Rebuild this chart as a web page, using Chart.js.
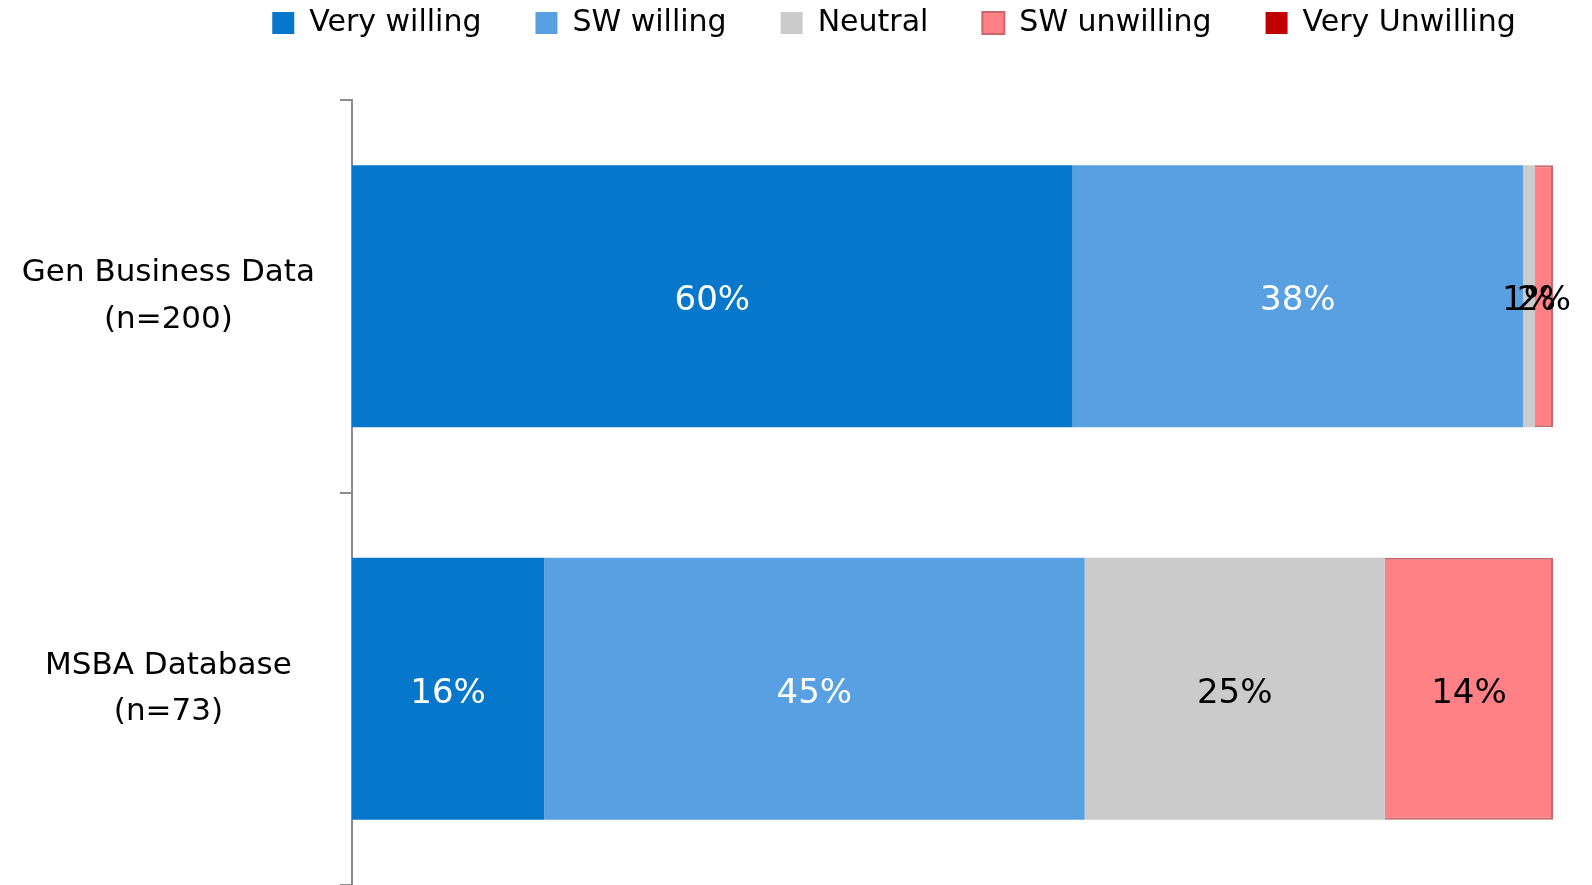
<!DOCTYPE html>
<html>
<head>
<meta charset="utf-8">
<script src="https://cdn.jsdelivr.net/npm/chart.js@4.4.1/dist/chart.umd.min.js"></script>
<style>
  html, body { margin: 0; padding: 0; background: #fff; }
  #wrap { width: 1592px; height: 885px; }
</style>
</head>
<body>
<div id="wrap"><canvas id="chart"></canvas></div>
<script>
// categories (rows) and series values, in percent
const categories = [["Gen Business Data", "(n=200)"], ["MSBA Database", "(n=73)"]];
const seriesNames = ["Very willing", "SW willing", "Neutral", "SW unwilling", "Very Unwilling"];
const veryWilling = [60, 16];
const swWilling = [37.5, 45];
const neutral = [1, 25];
const swUnwilling = [1.5, 14];
const veryUnwilling = [0, 0];

const colors = ["#0777CC", "#58A0E2", "#CBCBCB", "#FF8085", "#C00000"];
const labelColors = ["#ffffff", "#ffffff", "#000000", "#000000", "#000000"];
const FONT = "'DejaVu Sans', sans-serif";

// draw the value in the middle of each bar segment
const barLabels = {
    id: "barLabels",
    afterDatasetsDraw(chart) {
        const ctx = chart.ctx;
        ctx.save();
        ctx.font = "34px " + FONT;
        ctx.textAlign = "center";
        ctx.textBaseline = "middle";
        chart.data.datasets.forEach((ds, i) => {
            const meta = chart.getDatasetMeta(i);
            meta.data.forEach((bar, j) => {
                const v = ds.data[j];
                if (!v) return;
                ctx.fillStyle = labelColors[i];
                ctx.fillText(Math.round(v) + "%", (bar.x + bar.base) / 2, bar.y + 5);
            });
        });
        ctx.restore();
    },
};

// extra room between the legend and the bars
const legendGap = {
    id: "legendGap",
    afterInit(chart) {
        const fit = chart.legend.fit;
        chart.legend.fit = function () {
            fit.call(this);
            this.height += 52;
        };
    },
};

const allValues = [veryWilling, swWilling, neutral, swUnwilling, veryUnwilling];

new Chart(document.getElementById("chart"), {
    type: "bar",
    data: {
        labels: categories,
        datasets: seriesNames.map((name, i) => ({
            label: name,
            data: allValues[i],
            backgroundColor: colors[i],
            borderColor: i === 3 ? "#C9686C" : colors[i],
            borderWidth: i === 3 ? 2 : 0,
            barPercentage: 0.667,
            categoryPercentage: 1,
        })),
    },
    options: {
        indexAxis: "y",
        responsive: true,
        maintainAspectRatio: false,
        animation: false,
        layout: {
            // legend is centred a bit right of the canvas middle, like the original
            padding: { left: 0, right: -196, top: -46, bottom: 0 },
        },
        plugins: {
            legend: {
                position: "top",
                align: "center",
                labels: {
                    boxWidth: 22,
                    boxHeight: 22,
                    padding: 54,
                    color: "#000",
                    font: { family: FONT, size: 30 },
                },
            },
            tooltip: { enabled: false },
        },
        scales: {
            x: {
                stacked: true,
                min: 0,
                max: 100,
                display: false,
            },
            y: {
                stacked: true,
                afterFit: (scale) => {
                    scale.width = 352;
                    scale.paddingTop = 0;
                    scale.paddingBottom = 0;
                },
                border: { display: true, color: "#8c8c8c", width: 2 },
                grid: {
                    offset: true,
                    drawOnChartArea: false,
                    tickLength: 12,
                    color: "#8c8c8c",
                    lineWidth: 2,
                },
                ticks: {
                    padding: 25,
                    crossAlign: "center",
                    color: "#000",
                    font: { family: FONT, size: 31, lineHeight: 1.5 },
                },
            },
            yRight: {
                type: "category",
                position: "right",
                labels: ["", ""],
                afterFit: (scale) => {
                    scale.width = 235;
                    scale.paddingTop = 0;
                    scale.paddingBottom = 0;
                },
                border: { display: false },
                grid: { display: false },
                ticks: { display: false },
            },
        },
    },
    plugins: [barLabels, legendGap],
});
</script>
</body>
</html>
